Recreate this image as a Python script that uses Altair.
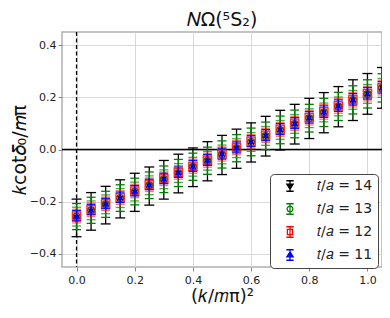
import altair as alt
import pandas as pd

k2 = [0.00, 0.05, 0.10, 0.15, 0.20, 0.25, 0.30, 0.35, 0.40, 0.45, 0.50,
      0.55, 0.60, 0.65, 0.70, 0.75, 0.80, 0.85, 0.90, 0.95, 1.00, 1.05]

labels = ["𝑡/𝑎 = 14", "𝑡/𝑎 = 13", "𝑡/𝑎 = 12", "𝑡/𝑎 = 11"]

y14 = [-0.262, -0.237, -0.213, -0.189, -0.164, -0.140, -0.116, -0.092, -0.068, -0.045, -0.021,
       0.003, 0.027, 0.051, 0.074, 0.097, 0.119, 0.141, 0.164, 0.189, 0.213, 0.236]
e14 = [0.072, 0.072, 0.072, 0.073, 0.073, 0.073, 0.074, 0.074, 0.074, 0.075, 0.075,
       0.075, 0.075, 0.076, 0.076, 0.076, 0.077, 0.077, 0.077, 0.078, 0.078, 0.078]

y13 = [-0.257, -0.233, -0.210, -0.186, -0.161, -0.137, -0.114, -0.090, -0.066, -0.043, -0.019,
       0.005, 0.029, 0.052, 0.075, 0.098, 0.120, 0.142, 0.165, 0.190, 0.213, 0.236]
e13 = [0.050, 0.050, 0.050, 0.051, 0.051, 0.051, 0.051, 0.052, 0.052, 0.052, 0.052,
       0.052, 0.053, 0.053, 0.053, 0.053, 0.053, 0.054, 0.054, 0.054, 0.054, 0.054]
e13b = [0.036, 0.036, 0.036, 0.036, 0.036, 0.036, 0.036, 0.036, 0.036, 0.036, 0.036,
        0.036, 0.036, 0.036, 0.036, 0.036, 0.036, 0.036, 0.036, 0.036, 0.036, 0.036]

y12 = [-0.255, -0.231, -0.208, -0.184, -0.159, -0.135, -0.112, -0.088, -0.064, -0.041, -0.017,
       0.007, 0.031, 0.054, 0.077, 0.100, 0.122, 0.144, 0.167, 0.191, 0.214, 0.237]
e12 = [0.026, 0.026, 0.026, 0.026, 0.026, 0.026, 0.026, 0.026, 0.027, 0.027, 0.027,
       0.027, 0.027, 0.027, 0.027, 0.027, 0.028, 0.028, 0.028, 0.028, 0.028, 0.028]

y11 = [-0.254, -0.230, -0.207, -0.183, -0.158, -0.134, -0.111, -0.087, -0.063, -0.040, -0.016,
       0.008, 0.032, 0.055, 0.078, 0.101, 0.123, 0.145, 0.168, 0.192, 0.215, 0.238]
e11 = [0.020, 0.020, 0.020, 0.020, 0.020, 0.020, 0.020, 0.020, 0.021, 0.021, 0.021,
       0.021, 0.021, 0.021, 0.021, 0.021, 0.022, 0.022, 0.022, 0.022, 0.022, 0.022]

colors = ["black", "green", "red", "blue"]

rows = []
for lab, ys, es in [(labels[0], y14, e14), (labels[1], y13, e13), (labels[2], y12, e12), (labels[3], y11, e11)]:
    for xv, yv, ev in zip(k2, ys, es):
        rows.append({"series": lab, "k2": xv, "y": yv, "lo": yv - ev, "hi": yv + ev})
df = pd.DataFrame(rows)

inner = pd.DataFrame({"k2": k2, "lo": [a - b for a, b in zip(y13, e13b)], "hi": [a + b for a, b in zip(y13, e13b)]})

xscale = alt.Scale(domain=[-0.05, 1.05], nice=False, zero=False)
yscale = alt.Scale(domain=[-0.45, 0.45], nice=False, zero=False)
X = alt.X("k2:Q", scale=xscale,
          axis=alt.Axis(values=[0, 0.2, 0.4, 0.6, 0.8, 1.0], format=".1f", title="(𝑘/𝑚π)²"))
Y = alt.Y("y:Q", scale=yscale,
          axis=alt.Axis(values=[-0.4, -0.2, 0, 0.2, 0.4], format=".1f", title="𝑘cot𝛿₀/𝑚π"))

base = alt.Chart(df)

zero_line = alt.Chart(pd.DataFrame({"y": [0.0]})).mark_rule(color="black", strokeWidth=1.5).encode(y=alt.Y("y:Q", scale=yscale))
vline = alt.Chart(pd.DataFrame({"k2": [0.0]})).mark_rule(color="black", strokeWidth=1.3, strokeDash=[4, 2.5]).encode(x=alt.X("k2:Q", scale=xscale))

layers = [zero_line, vline]

specs = {
    labels[0]: dict(color="black", shape="triangle-down", filled=True, op=1.0, size=45, cap=10),
    labels[1]: dict(color="green", shape="circle", filled=False, op=1.0, size=45, cap=9),
    labels[2]: dict(color="red", shape="square", filled=False, op=0.55, size=70, cap=9),
    labels[3]: dict(color="blue", shape="triangle-up", filled=True, op=0.9, size=45, cap=9),
}

for lab in labels:
    s = specs[lab]
    b = base.transform_filter(alt.datum.series == lab)
    layers.append(b.mark_rule(color=s["color"], strokeWidth=1.3, opacity=s["op"], clip=True).encode(
        x=X, y=alt.Y("lo:Q", scale=yscale), y2="hi:Q"))
    for c in ["lo", "hi"]:
        layers.append(b.mark_tick(orient="horizontal", color=s["color"], size=s["cap"], thickness=1.3,
                                  opacity=s["op"], clip=True).encode(x=X, y=alt.Y(f"{c}:Q", scale=yscale)))
    if lab == labels[1]:
        for c in ["lo", "hi"]:
            layers.append(alt.Chart(inner).mark_tick(orient="horizontal", color="green", size=9, thickness=1.3,
                                                     clip=True).encode(x=X, y=alt.Y(f"{c}:Q", scale=yscale)))
    if lab == labels[2]:
        layers.append(b.mark_point(shape="square", filled=True, color="red", opacity=0.3, size=s["size"],
                                   clip=True).encode(x=X, y=Y))
    layers.append(b.mark_point(shape=s["shape"], filled=s["filled"], color=s["color"], size=s["size"],
                               strokeWidth=1.3, opacity=1.0 if lab != labels[2] else 0.8, clip=True).encode(x=X, y=Y))

# legend-only layer
p14 = "M-0.7,-1L0.7,-1M0,-1L0,1M-0.7,1L0.7,1M-0.6,-0.35L0.6,-0.35L0,0.6Z"
p13 = "M-0.7,-1L0.7,-1M0,-1L0,1M-0.7,1L0.7,1M0.55,0A0.55,0.55 0 1,1 -0.55,0A0.55,0.55 0 1,1 0.55,0Z"
p12 = "M-0.7,-1L0.7,-1M0,-1L0,1M-0.7,1L0.7,1M-0.5,-0.5L0.5,-0.5L0.5,0.5L-0.5,0.5Z"
p11 = "M-0.7,-1L0.7,-1M0,-1L0,1M-0.7,1L0.7,1M0,-0.6L0.6,0.35L-0.6,0.35Z"

leg = alt.Legend(title=None, orient="none", legendX=208, legendY=142, padding=5,
                 strokeColor="#444444", fillColor="white", cornerRadius=4,
                 labelFontSize=14, labelFont="DejaVu Sans", labelColor="#222222",
                 symbolSize=110, symbolStrokeWidth=1.3, rowPadding=7, labelOffset=20,
                 symbolOffset=8)
legend_layer = alt.Chart(pd.DataFrame({"series": labels})).transform_filter("false").mark_point(size=110, strokeWidth=1.3, opacity=1).encode(
    shape=alt.Shape("series:N", scale=alt.Scale(domain=labels, range=[p14, p13, p12, p11]), legend=leg),
    stroke=alt.Stroke("series:N", scale=alt.Scale(domain=labels, range=colors), legend=leg),
    fill=alt.Fill("series:N", scale=alt.Scale(domain=labels, range=["black", "transparent", "transparent", "blue"]), legend=leg),
)
layers.append(legend_layer)

chart = alt.layer(*layers).properties(
    width=320, height=235,
    title=alt.TitleParams("𝑁Ω(⁵S₂)", fontSize=19, font="DejaVu Sans", fontWeight="normal", color="#111111", offset=1),
    padding={"left": 54, "top": 24, "right": 0, "bottom": 39},
    autosize=alt.AutoSizeParams(type="none"),
).configure_view(
    stroke="#b0b0b0", strokeWidth=1.5
).configure_axis(
    domain=False, grid=True, gridColor="#d9d9d9", gridWidth=1,
    tickColor="#888888", tickSize=4, labelFontSize=11, labelFont="DejaVu Sans", labelColor="#222222",
    labelPadding=3, titleFont="DejaVu Sans", titleFontSize=19, titleFontWeight="normal", titleColor="#111111"
).configure_axisY(titlePadding=0, labelPadding=2).configure_axisX(titlePadding=2, labelPadding=3, titleFontSize=18)

chart.save("out.html", embed_options={"renderer": "svg", "actions": False})
